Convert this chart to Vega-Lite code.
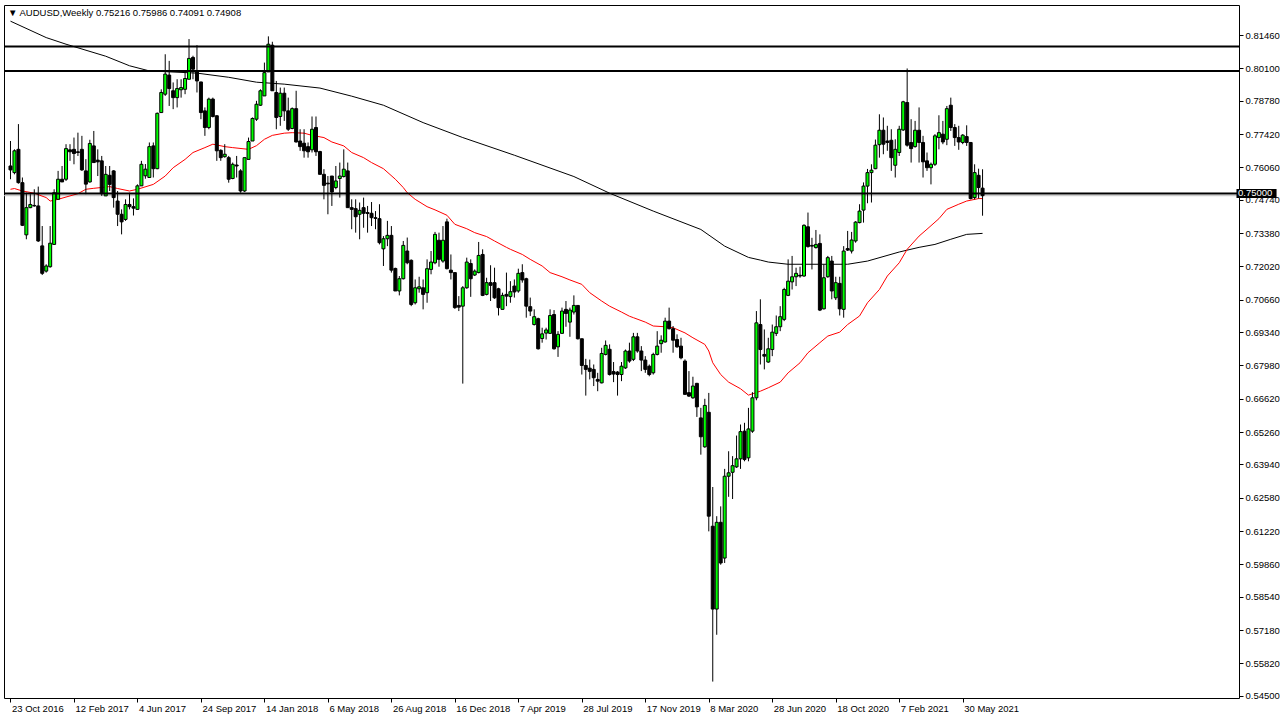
{
"$schema":"https://vega.github.io/schema/vega-lite/v6.json",
"width":1235,"height":693,
"autosize":{"type":"none"},
"padding":{"left":4,"top":5,"right":48,"bottom":23},
"background":"white",
"title":{"text":"▼  AUDUSD,Weekly  0.75216 0.75986 0.74091 0.74908","anchor":"start","frame":"group","orient":"top","baseline":"top","offset":-12,"dx":4,"font":"Liberation Sans","fontSize":9.5,"fontWeight":"normal","color":"black"},
"config":{
"view":{"stroke":"black","strokeWidth":1},
"axis":{"grid":false,"domain":false,"tickColor":"black","labelColor":"black","labelFont":"Liberation Sans","labelFontSize":9.5,"labelOverlap":false}
},
"datasets":{
"candles":[
{"w":0,"o":0.7612,"h":0.7714,"l":0.7558,"c":0.7596},
{"w":1,"o":0.7585,"h":0.7680,"l":0.7578,"c":0.7674},
{"w":2,"o":0.7680,"h":0.7783,"l":0.7540,"c":0.7544},
{"w":3,"o":0.7544,"h":0.7565,"l":0.7367,"c":0.7370},
{"w":4,"o":0.7331,"h":0.7503,"l":0.7313,"c":0.7442},
{"w":5,"o":0.7442,"h":0.7497,"l":0.7440,"c":0.7455},
{"w":6,"o":0.7451,"h":0.7517,"l":0.7446,"c":0.7449},
{"w":7,"o":0.7449,"h":0.7528,"l":0.7302,"c":0.7306},
{"w":8,"o":0.7286,"h":0.7367,"l":0.7167,"c":0.7174},
{"w":9,"o":0.7183,"h":0.7211,"l":0.7177,"c":0.7204},
{"w":10,"o":0.7201,"h":0.7367,"l":0.7197,"c":0.7297},
{"w":11,"o":0.7292,"h":0.7517,"l":0.7290,"c":0.7503},
{"w":12,"o":0.7476,"h":0.7592,"l":0.7476,"c":0.7558},
{"w":13,"o":0.7558,"h":0.7612,"l":0.7547,"c":0.7547},
{"w":14,"o":0.7558,"h":0.7701,"l":0.7551,"c":0.7683},
{"w":15,"o":0.7678,"h":0.7701,"l":0.7633,"c":0.7670},
{"w":16,"o":0.7680,"h":0.7728,"l":0.7619,"c":0.7663},
{"w":17,"o":0.7670,"h":0.7748,"l":0.7653,"c":0.7667},
{"w":18,"o":0.7680,"h":0.7735,"l":0.7592,"c":0.7596},
{"w":19,"o":0.7592,"h":0.7640,"l":0.7497,"c":0.7538},
{"w":20,"o":0.7547,"h":0.7719,"l":0.7544,"c":0.7704},
{"w":21,"o":0.7694,"h":0.7755,"l":0.7626,"c":0.7626},
{"w":22,"o":0.7636,"h":0.7680,"l":0.7571,"c":0.7629},
{"w":23,"o":0.7633,"h":0.7653,"l":0.7490,"c":0.7499},
{"w":24,"o":0.7490,"h":0.7612,"l":0.7490,"c":0.7578},
{"w":25,"o":0.7574,"h":0.7612,"l":0.7510,"c":0.7537},
{"w":26,"o":0.7592,"h":0.7595,"l":0.7442,"c":0.7483},
{"w":27,"o":0.7469,"h":0.7510,"l":0.7367,"c":0.7415},
{"w":28,"o":0.7415,"h":0.7435,"l":0.7333,"c":0.7384},
{"w":29,"o":0.7394,"h":0.7476,"l":0.7388,"c":0.7455},
{"w":30,"o":0.7455,"h":0.7503,"l":0.7435,"c":0.7446},
{"w":31,"o":0.7446,"h":0.7480,"l":0.7410,"c":0.7440},
{"w":32,"o":0.7435,"h":0.7537,"l":0.7435,"c":0.7531},
{"w":33,"o":0.7531,"h":0.7633,"l":0.7531,"c":0.7619},
{"w":34,"o":0.7572,"h":0.7620,"l":0.7560,"c":0.7599},
{"w":35,"o":0.7565,"h":0.7708,"l":0.7565,"c":0.7691},
{"w":36,"o":0.7694,"h":0.7708,"l":0.7565,"c":0.7601},
{"w":37,"o":0.7601,"h":0.7830,"l":0.7599,"c":0.7827},
{"w":38,"o":0.7830,"h":0.7925,"l":0.7830,"c":0.7912},
{"w":39,"o":0.7905,"h":0.8068,"l":0.7898,"c":0.7987},
{"w":40,"o":0.7983,"h":0.8041,"l":0.7857,"c":0.7928},
{"w":41,"o":0.7919,"h":0.7953,"l":0.7844,"c":0.7891},
{"w":42,"o":0.7891,"h":0.7966,"l":0.7851,"c":0.7928},
{"w":43,"o":0.7923,"h":0.7966,"l":0.7891,"c":0.7932},
{"w":44,"o":0.7925,"h":0.8000,"l":0.7905,"c":0.7969},
{"w":45,"o":0.7966,"h":0.8130,"l":0.7966,"c":0.8051},
{"w":46,"o":0.8055,"h":0.8062,"l":0.7966,"c":0.8007},
{"w":47,"o":0.8000,"h":0.8105,"l":0.7912,"c":0.7959},
{"w":48,"o":0.7955,"h":0.7955,"l":0.7803,"c":0.7830},
{"w":49,"o":0.7837,"h":0.7851,"l":0.7735,"c":0.7769},
{"w":50,"o":0.7769,"h":0.7891,"l":0.7762,"c":0.7885},
{"w":51,"o":0.7885,"h":0.7891,"l":0.7810,"c":0.7814},
{"w":52,"o":0.7817,"h":0.7819,"l":0.7633,"c":0.7674},
{"w":53,"o":0.7676,"h":0.7680,"l":0.7633,"c":0.7646},
{"w":54,"o":0.7650,"h":0.7701,"l":0.7646,"c":0.7660},
{"w":55,"o":0.7646,"h":0.7653,"l":0.7544,"c":0.7558},
{"w":56,"o":0.7561,"h":0.7626,"l":0.7558,"c":0.7619},
{"w":57,"o":0.7616,"h":0.7653,"l":0.7565,"c":0.7612},
{"w":58,"o":0.7592,"h":0.7599,"l":0.7503,"c":0.7510},
{"w":59,"o":0.7510,"h":0.7646,"l":0.7506,"c":0.7646},
{"w":60,"o":0.7639,"h":0.7728,"l":0.7639,"c":0.7712},
{"w":61,"o":0.7714,"h":0.7810,"l":0.7714,"c":0.7806},
{"w":62,"o":0.7803,"h":0.7878,"l":0.7796,"c":0.7864},
{"w":63,"o":0.7860,"h":0.7925,"l":0.7857,"c":0.7919},
{"w":64,"o":0.7898,"h":0.8034,"l":0.7898,"c":0.7993},
{"w":65,"o":0.7996,"h":0.8141,"l":0.7996,"c":0.8109},
{"w":66,"o":0.8105,"h":0.8119,"l":0.7919,"c":0.7919},
{"w":67,"o":0.7912,"h":0.7959,"l":0.7762,"c":0.7810},
{"w":68,"o":0.7814,"h":0.7932,"l":0.7776,"c":0.7909},
{"w":69,"o":0.7909,"h":0.7932,"l":0.7796,"c":0.7837},
{"w":70,"o":0.7837,"h":0.7891,"l":0.7755,"c":0.7762},
{"w":71,"o":0.7765,"h":0.7851,"l":0.7762,"c":0.7846},
{"w":72,"o":0.7846,"h":0.7919,"l":0.7708,"c":0.7710},
{"w":73,"o":0.7714,"h":0.7762,"l":0.7674,"c":0.7691},
{"w":74,"o":0.7705,"h":0.7762,"l":0.7646,"c":0.7674},
{"w":75,"o":0.7691,"h":0.7708,"l":0.7646,"c":0.7670},
{"w":76,"o":0.7678,"h":0.7814,"l":0.7667,"c":0.7762},
{"w":77,"o":0.7769,"h":0.7814,"l":0.7653,"c":0.7670},
{"w":78,"o":0.7671,"h":0.7674,"l":0.7578,"c":0.7578},
{"w":79,"o":0.7578,"h":0.7599,"l":0.7476,"c":0.7533},
{"w":80,"o":0.7542,"h":0.7571,"l":0.7415,"c":0.7539},
{"w":81,"o":0.7571,"h":0.7571,"l":0.7449,"c":0.7506},
{"w":82,"o":0.7524,"h":0.7612,"l":0.7517,"c":0.7551},
{"w":83,"o":0.7561,"h":0.7626,"l":0.7483,"c":0.7571},
{"w":84,"o":0.7569,"h":0.7680,"l":0.7565,"c":0.7599},
{"w":85,"o":0.7592,"h":0.7626,"l":0.7442,"c":0.7442},
{"w":86,"o":0.7442,"h":0.7476,"l":0.7354,"c":0.7435},
{"w":87,"o":0.7438,"h":0.7476,"l":0.7340,"c":0.7405},
{"w":88,"o":0.7415,"h":0.7463,"l":0.7313,"c":0.7431},
{"w":89,"o":0.7442,"h":0.7483,"l":0.7360,"c":0.7419},
{"w":90,"o":0.7422,"h":0.7449,"l":0.7340,"c":0.7418},
{"w":91,"o":0.7419,"h":0.7465,"l":0.7367,"c":0.7401},
{"w":92,"o":0.7401,"h":0.7428,"l":0.7354,"c":0.7398},
{"w":93,"o":0.7397,"h":0.7456,"l":0.7292,"c":0.7299},
{"w":94,"o":0.7274,"h":0.7326,"l":0.7204,"c":0.7315},
{"w":95,"o":0.7315,"h":0.7388,"l":0.7285,"c":0.7329},
{"w":96,"o":0.7329,"h":0.7367,"l":0.7177,"c":0.7187},
{"w":97,"o":0.7194,"h":0.7197,"l":0.7102,"c":0.7102},
{"w":98,"o":0.7102,"h":0.7163,"l":0.7084,"c":0.7152},
{"w":99,"o":0.7152,"h":0.7306,"l":0.7149,"c":0.7288},
{"w":100,"o":0.7265,"h":0.7320,"l":0.7211,"c":0.7217},
{"w":101,"o":0.7227,"h":0.7231,"l":0.7040,"c":0.7047},
{"w":102,"o":0.7054,"h":0.7149,"l":0.7047,"c":0.7115},
{"w":103,"o":0.7111,"h":0.7160,"l":0.7095,"c":0.7119},
{"w":104,"o":0.7115,"h":0.7149,"l":0.7027,"c":0.7088},
{"w":105,"o":0.7095,"h":0.7231,"l":0.7054,"c":0.7193},
{"w":106,"o":0.7190,"h":0.7265,"l":0.7170,"c":0.7220},
{"w":107,"o":0.7217,"h":0.7343,"l":0.7211,"c":0.7333},
{"w":108,"o":0.7309,"h":0.7340,"l":0.7201,"c":0.7231},
{"w":109,"o":0.7224,"h":0.7367,"l":0.7217,"c":0.7309},
{"w":110,"o":0.7384,"h":0.7397,"l":0.7190,"c":0.7193},
{"w":111,"o":0.7187,"h":0.7251,"l":0.7149,"c":0.7177},
{"w":112,"o":0.7177,"h":0.7177,"l":0.7029,"c":0.7034},
{"w":113,"o":0.7043,"h":0.7081,"l":0.7020,"c":0.7036},
{"w":114,"o":0.7040,"h":0.7122,"l":0.6724,"c":0.7115},
{"w":115,"o":0.7115,"h":0.7238,"l":0.7111,"c":0.7220},
{"w":116,"o":0.7214,"h":0.7231,"l":0.7078,"c":0.7152},
{"w":117,"o":0.7167,"h":0.7190,"l":0.7163,"c":0.7183},
{"w":118,"o":0.7177,"h":0.7302,"l":0.7174,"c":0.7247},
{"w":119,"o":0.7251,"h":0.7272,"l":0.7081,"c":0.7084},
{"w":120,"o":0.7088,"h":0.7156,"l":0.7084,"c":0.7136},
{"w":121,"o":0.7136,"h":0.7207,"l":0.7061,"c":0.7125},
{"w":122,"o":0.7136,"h":0.7197,"l":0.7070,"c":0.7074},
{"w":123,"o":0.7111,"h":0.7115,"l":0.7002,"c":0.7034},
{"w":124,"o":0.7027,"h":0.7095,"l":0.7027,"c":0.7084},
{"w":125,"o":0.7088,"h":0.7177,"l":0.7040,"c":0.7081},
{"w":126,"o":0.7079,"h":0.7142,"l":0.7054,"c":0.7099},
{"w":127,"o":0.7122,"h":0.7149,"l":0.7075,"c":0.7098},
{"w":128,"o":0.7102,"h":0.7193,"l":0.7095,"c":0.7174},
{"w":129,"o":0.7177,"h":0.7211,"l":0.7136,"c":0.7147},
{"w":130,"o":0.7152,"h":0.7156,"l":0.6993,"c":0.7040},
{"w":131,"o":0.7038,"h":0.7075,"l":0.7000,"c":0.7020},
{"w":132,"o":0.6965,"h":0.7027,"l":0.6961,"c":0.6997},
{"w":133,"o":0.6989,"h":0.6993,"l":0.6863,"c":0.6866},
{"w":134,"o":0.6908,"h":0.6952,"l":0.6891,"c":0.6927},
{"w":135,"o":0.6930,"h":0.6952,"l":0.6904,"c":0.6943},
{"w":136,"o":0.6929,"h":0.7027,"l":0.6927,"c":0.7002},
{"w":137,"o":0.7006,"h":0.7024,"l":0.6863,"c":0.6866},
{"w":138,"o":0.6874,"h":0.6938,"l":0.6833,"c":0.6925},
{"w":139,"o":0.6929,"h":0.7034,"l":0.6929,"c":0.7020},
{"w":140,"o":0.7027,"h":0.7061,"l":0.6956,"c":0.7010},
{"w":141,"o":0.6975,"h":0.7034,"l":0.6915,"c":0.7024},
{"w":142,"o":0.7016,"h":0.7084,"l":0.7006,"c":0.7043},
{"w":143,"o":0.7043,"h":0.7043,"l":0.6904,"c":0.6907},
{"w":144,"o":0.6907,"h":0.6907,"l":0.6761,"c":0.6798},
{"w":145,"o":0.6798,"h":0.6825,"l":0.6675,"c":0.6782},
{"w":146,"o":0.6787,"h":0.6822,"l":0.6741,"c":0.6774},
{"w":147,"o":0.6782,"h":0.6802,"l":0.6714,"c":0.6748},
{"w":148,"o":0.6741,"h":0.6768,"l":0.6693,"c":0.6734},
{"w":149,"o":0.6727,"h":0.6870,"l":0.6725,"c":0.6847},
{"w":150,"o":0.6843,"h":0.6900,"l":0.6839,"c":0.6880},
{"w":151,"o":0.6864,"h":0.6884,"l":0.6757,"c":0.6761},
{"w":152,"o":0.6773,"h":0.6812,"l":0.6730,"c":0.6763},
{"w":153,"o":0.6771,"h":0.6775,"l":0.6675,"c":0.6761},
{"w":154,"o":0.6761,"h":0.6812,"l":0.6734,"c":0.6795},
{"w":155,"o":0.6788,"h":0.6863,"l":0.6784,"c":0.6857},
{"w":156,"o":0.6857,"h":0.6891,"l":0.6809,"c":0.6816},
{"w":157,"o":0.6823,"h":0.6931,"l":0.6816,"c":0.6915},
{"w":158,"o":0.6915,"h":0.6931,"l":0.6850,"c":0.6857},
{"w":159,"o":0.6857,"h":0.6877,"l":0.6775,"c":0.6820},
{"w":160,"o":0.6820,"h":0.6836,"l":0.6768,"c":0.6782},
{"w":161,"o":0.6795,"h":0.6802,"l":0.6754,"c":0.6761},
{"w":162,"o":0.6768,"h":0.6850,"l":0.6761,"c":0.6843},
{"w":163,"o":0.6843,"h":0.6938,"l":0.6839,"c":0.6877},
{"w":164,"o":0.6887,"h":0.6921,"l":0.6850,"c":0.6901},
{"w":165,"o":0.6894,"h":0.6993,"l":0.6891,"c":0.6979},
{"w":166,"o":0.6979,"h":0.7034,"l":0.6945,"c":0.6948},
{"w":167,"o":0.6948,"h":0.6959,"l":0.6850,"c":0.6901},
{"w":168,"o":0.6904,"h":0.6925,"l":0.6870,"c":0.6874},
{"w":169,"o":0.6877,"h":0.6911,"l":0.6823,"c":0.6829},
{"w":170,"o":0.6816,"h":0.6823,"l":0.6680,"c":0.6680},
{"w":171,"o":0.6687,"h":0.6775,"l":0.6670,"c":0.6673},
{"w":172,"o":0.6666,"h":0.6752,"l":0.6662,"c":0.6714},
{"w":173,"o":0.6725,"h":0.6727,"l":0.6588,"c":0.6629},
{"w":174,"o":0.6584,"h":0.6625,"l":0.6434,"c":0.6507},
{"w":175,"o":0.6466,"h":0.6662,"l":0.6462,"c":0.6635},
{"w":176,"o":0.6607,"h":0.6686,"l":0.6121,"c":0.6183},
{"w":177,"o":0.6142,"h":0.6302,"l":0.5508,"c":0.5804},
{"w":178,"o":0.5804,"h":0.6183,"l":0.5699,"c":0.6158},
{"w":179,"o":0.6158,"h":0.6223,"l":0.5985,"c":0.5992},
{"w":180,"o":0.6012,"h":0.6376,"l":0.5992,"c":0.6346},
{"w":181,"o":0.6346,"h":0.6448,"l":0.6262,"c":0.6360},
{"w":182,"o":0.6362,"h":0.6428,"l":0.6253,"c":0.6389},
{"w":183,"o":0.6384,"h":0.6512,"l":0.6380,"c":0.6417},
{"w":184,"o":0.6417,"h":0.6557,"l":0.6376,"c":0.6528},
{"w":185,"o":0.6530,"h":0.6564,"l":0.6407,"c":0.6414},
{"w":186,"o":0.6421,"h":0.6625,"l":0.6407,"c":0.6539},
{"w":187,"o":0.6530,"h":0.6689,"l":0.6523,"c":0.6666},
{"w":188,"o":0.6666,"h":0.7020,"l":0.6656,"c":0.6972},
{"w":189,"o":0.6965,"h":0.7068,"l":0.6802,"c":0.6863},
{"w":190,"o":0.6843,"h":0.6945,"l":0.6782,"c":0.6836},
{"w":191,"o":0.6812,"h":0.6911,"l":0.6809,"c":0.6866},
{"w":192,"o":0.6863,"h":0.6965,"l":0.6836,"c":0.6934},
{"w":193,"o":0.6929,"h":0.7002,"l":0.6918,"c":0.6956},
{"w":194,"o":0.6956,"h":0.7040,"l":0.6938,"c":0.6997},
{"w":195,"o":0.6986,"h":0.7115,"l":0.6979,"c":0.7108},
{"w":196,"o":0.7084,"h":0.7231,"l":0.7081,"c":0.7142},
{"w":197,"o":0.7139,"h":0.7245,"l":0.7108,"c":0.7160},
{"w":198,"o":0.7160,"h":0.7197,"l":0.7122,"c":0.7174},
{"w":199,"o":0.7166,"h":0.7201,"l":0.7156,"c":0.7163},
{"w":200,"o":0.7163,"h":0.7374,"l":0.7160,"c":0.7370},
{"w":201,"o":0.7364,"h":0.7422,"l":0.7279,"c":0.7283},
{"w":202,"o":0.7288,"h":0.7319,"l":0.7190,"c":0.7285},
{"w":203,"o":0.7279,"h":0.7351,"l":0.7275,"c":0.7292},
{"w":204,"o":0.7296,"h":0.7333,"l":0.7020,"c":0.7024},
{"w":205,"o":0.7029,"h":0.7211,"l":0.7027,"c":0.7156},
{"w":206,"o":0.7160,"h":0.7245,"l":0.7156,"c":0.7238},
{"w":207,"o":0.7224,"h":0.7245,"l":0.7068,"c":0.7102},
{"w":208,"o":0.7074,"h":0.7160,"l":0.7065,"c":0.7136},
{"w":209,"o":0.7133,"h":0.7160,"l":0.7002,"c":0.7029},
{"w":210,"o":0.7027,"h":0.7285,"l":0.6993,"c":0.7265},
{"w":211,"o":0.7275,"h":0.7347,"l":0.7265,"c":0.7269},
{"w":212,"o":0.7265,"h":0.7343,"l":0.7255,"c":0.7310},
{"w":213,"o":0.7306,"h":0.7387,"l":0.7299,"c":0.7383},
{"w":214,"o":0.7381,"h":0.7456,"l":0.7378,"c":0.7428},
{"w":215,"o":0.7432,"h":0.7545,"l":0.7381,"c":0.7530},
{"w":216,"o":0.7530,"h":0.7600,"l":0.7460,"c":0.7585},
{"w":217,"o":0.7585,"h":0.7619,"l":0.7463,"c":0.7595},
{"w":218,"o":0.7601,"h":0.7720,"l":0.7599,"c":0.7697},
{"w":219,"o":0.7699,"h":0.7823,"l":0.7646,"c":0.7758},
{"w":220,"o":0.7758,"h":0.7810,"l":0.7660,"c":0.7701},
{"w":221,"o":0.7714,"h":0.7776,"l":0.7674,"c":0.7708},
{"w":222,"o":0.7717,"h":0.7762,"l":0.7592,"c":0.7646},
{"w":223,"o":0.7615,"h":0.7721,"l":0.7565,"c":0.7680},
{"w":224,"o":0.7667,"h":0.7776,"l":0.7653,"c":0.7762},
{"w":225,"o":0.7759,"h":0.7878,"l":0.7755,"c":0.7874},
{"w":226,"o":0.7871,"h":0.8010,"l":0.7691,"c":0.7697},
{"w":227,"o":0.7708,"h":0.7803,"l":0.7626,"c":0.7683},
{"w":228,"o":0.7691,"h":0.7796,"l":0.7687,"c":0.7758},
{"w":229,"o":0.7758,"h":0.7851,"l":0.7626,"c":0.7708},
{"w":230,"o":0.7708,"h":0.7735,"l":0.7565,"c":0.7629},
{"w":231,"o":0.7633,"h":0.7667,"l":0.7592,"c":0.7605},
{"w":232,"o":0.7605,"h":0.7626,"l":0.7537,"c":0.7619},
{"w":233,"o":0.7619,"h":0.7742,"l":0.7612,"c":0.7735},
{"w":234,"o":0.7728,"h":0.7819,"l":0.7680,"c":0.7748},
{"w":235,"o":0.7742,"h":0.7796,"l":0.7701,"c":0.7710},
{"w":236,"o":0.7721,"h":0.7857,"l":0.7697,"c":0.7846},
{"w":237,"o":0.7860,"h":0.7891,"l":0.7755,"c":0.7769},
{"w":238,"o":0.7769,"h":0.7783,"l":0.7694,"c":0.7728},
{"w":239,"o":0.7728,"h":0.7776,"l":0.7678,"c":0.7710},
{"w":240,"o":0.7708,"h":0.7742,"l":0.7701,"c":0.7738},
{"w":241,"o":0.7732,"h":0.7778,"l":0.7694,"c":0.7708},
{"w":242,"o":0.7708,"h":0.7710,"l":0.7476,"c":0.7479},
{"w":243,"o":0.7483,"h":0.7619,"l":0.7476,"c":0.7585},
{"w":244,"o":0.7574,"h":0.7601,"l":0.7479,"c":0.7524},
{"w":245,"o":0.75216,"h":0.75986,"l":0.74091,"c":0.74908}
],
"ma50":[
{"w":0,"v":0.7517},{"w":1,"v":0.7520},{"w":3,"v":0.7510},{"w":6,"v":0.7501},{"w":9,"v":0.7483},{"w":10,"v":0.7469},{"w":12,"v":0.7476},{"w":15,"v":0.7490},{"w":17,"v":0.7499},{"w":19,"v":0.7517},{"w":21,"v":0.7521},{"w":24,"v":0.7526},{"w":25,"v":0.7528},{"w":27,"v":0.7520},{"w":30,"v":0.7510},{"w":32,"v":0.7517},{"w":36,"v":0.7537},{"w":39,"v":0.7571},{"w":41,"v":0.7605},{"w":44,"v":0.7639},{"w":46,"v":0.7667},{"w":49,"v":0.7687},{"w":51,"v":0.7701},{"w":54,"v":0.7691},{"w":56,"v":0.7687},{"w":60,"v":0.7680},{"w":62,"v":0.7695},{"w":64,"v":0.7721},{"w":66,"v":0.7737},{"w":69,"v":0.7746},{"w":71,"v":0.7748},{"w":74,"v":0.7746},{"w":76,"v":0.7737},{"w":79,"v":0.7728},{"w":81,"v":0.7710},{"w":84,"v":0.7694},{"w":86,"v":0.7667},{"w":89,"v":0.7646},{"w":91,"v":0.7626},{"w":94,"v":0.7601},{"w":97,"v":0.7558},{"w":99,"v":0.7524},{"w":100,"v":0.7503},{"w":102,"v":0.7476},{"w":105,"v":0.7446},{"w":107,"v":0.7433},{"w":110,"v":0.7411},{"w":112,"v":0.7374},{"w":115,"v":0.7356},{"w":117,"v":0.7340},{"w":120,"v":0.7324},{"w":122,"v":0.7306},{"w":125,"v":0.7280},{"w":126,"v":0.7272},{"w":129,"v":0.7251},{"w":131,"v":0.7231},{"w":134,"v":0.7204},{"w":136,"v":0.7177},{"w":139,"v":0.7160},{"w":141,"v":0.7147},{"w":144,"v":0.7129},{"w":146,"v":0.7095},{"w":149,"v":0.7061},{"w":151,"v":0.7040},{"w":154,"v":0.7016},{"w":156,"v":0.6999},{"w":157,"v":0.6993},{"w":160,"v":0.6975},{"w":162,"v":0.6959},{"w":165,"v":0.6956},{"w":167,"v":0.6952},{"w":170,"v":0.6931},{"w":172,"v":0.6911},{"w":175,"v":0.6884},{"w":176,"v":0.6857},{"w":177,"v":0.6809},{"w":179,"v":0.6761},{"w":181,"v":0.6730},{"w":184,"v":0.6703},{"w":186,"v":0.6677},{"w":189,"v":0.6693},{"w":191,"v":0.6707},{"w":194,"v":0.6730},{"w":196,"v":0.6768},{"w":199,"v":0.6809},{"w":201,"v":0.6850},{"w":204,"v":0.6891},{"w":206,"v":0.6918},{"w":209,"v":0.6934},{"w":211,"v":0.6965},{"w":214,"v":0.7000},{"w":216,"v":0.7054},{"w":219,"v":0.7108},{"w":221,"v":0.7163},{"w":224,"v":0.7217},{"w":226,"v":0.7272},{"w":229,"v":0.7326},{"w":231,"v":0.7354},{"w":234,"v":0.7397},{"w":236,"v":0.7435},{"w":239,"v":0.7456},{"w":241,"v":0.7469},{"w":244,"v":0.7479},{"w":245,"v":0.7479}
],
"ma200":[
{"w":0,"v":0.8203},{"w":9,"v":0.8136},{"w":14,"v":0.8109},{"w":24,"v":0.8060},{"w":30,"v":0.8021},{"w":35,"v":0.8000},{"w":47,"v":0.7991},{"w":55,"v":0.7974},{"w":62,"v":0.7954},{"w":69,"v":0.7946},{"w":78,"v":0.7930},{"w":86,"v":0.7897},{"w":94,"v":0.7860},{"w":104,"v":0.7789},{"w":114,"v":0.7728},{"w":127,"v":0.7656},{"w":142,"v":0.7569},{"w":151,"v":0.7501},{"w":162,"v":0.7428},{"w":174,"v":0.7353},{"w":180,"v":0.7285},{"w":186,"v":0.7239},{"w":189,"v":0.7228},{"w":191,"v":0.7220},{"w":196,"v":0.7211},{"w":211,"v":0.7211},{"w":216,"v":0.7224},{"w":224,"v":0.7261},{"w":229,"v":0.7280},{"w":233,"v":0.7292},{"w":237,"v":0.7313},{"w":241,"v":0.7333},{"w":245,"v":0.7337}
],
"levels":[{"p":0.81},{"p":0.80},{"p":0.75}],
"bid":[{"p":0.74908}],
"tag":[{"p":0.75,"t":"0.75000"}]
},
"layer":[
{"data":{"name":"bid"},"mark":{"type":"rule","color":"#c0c0c0","strokeWidth":1},
 "encoding":{"y":{"field":"p","type":"quantitative","title":null,
  "scale":{"domain":[0.5441,0.8269],"zero":false,"nice":false},
  "axis":{"orient":"right","values":[0.8146,0.801,0.7878,0.7742,0.7606,0.7474,0.7338,0.7202,0.7066,0.6934,0.6798,0.6662,0.6526,0.6394,0.6258,0.6122,0.5986,0.5854,0.5718,0.5582,0.545],"tickCount":40,"format":".5f","tickSize":4,"labelPadding":2,"labelAlign":"left","labelBaseline":"middle","labelOverlap":false,"labelSeparation":0}}}},
{"data":{"name":"ma200"},"mark":{"type":"line","color":"black","strokeWidth":1},
 "encoding":{"x":{"field":"w","type":"quantitative","title":null,
  "scale":{"domain":[-0.375,308.375],"zero":false,"nice":false},
  "axis":{"orient":"bottom","values":[0,16,32,48,64,80,96,112,128,144,160,176,192,208,224,240],"tickCount":40,"labelExpr":"['23 Oct 2016','12 Feb 2017','4 Jun 2017','24 Sep 2017','14 Jan 2018','6 May 2018','26 Aug 2018','16 Dec 2018','7 Apr 2019','28 Jul 2019','17 Nov 2019','8 Mar 2020','28 Jun 2020','18 Oct 2020','7 Feb 2021','30 May 2021'][round(datum.value/16)]","tickSize":4,"labelAlign":"left","labelBaseline":"top","labelPadding":1,"labelOffset":1,"labelOverlap":false,"labelFlush":false}},
  "y":{"field":"v","type":"quantitative","title":null}}},
{"data":{"name":"ma50"},"mark":{"type":"line","color":"#ff0000","strokeWidth":1},
 "encoding":{"x":{"field":"w","type":"quantitative","title":null},"y":{"field":"v","type":"quantitative","title":null}}},
{"data":{"name":"candles"},"mark":{"type":"rule","color":"black","strokeWidth":1},
 "encoding":{"x":{"field":"w","type":"quantitative","title":null},"y":{"field":"l","type":"quantitative","title":null},"y2":{"field":"h"}}},
{"data":{"name":"candles"},"mark":{"type":"bar","width":3,"stroke":"black","strokeWidth":1},
 "encoding":{"x":{"field":"w","type":"quantitative","title":null},"y":{"field":"o","type":"quantitative","title":null},"y2":{"field":"c"},
  "fill":{"condition":{"test":"datum.c > datum.o","value":"#00ff00"},"value":"black"}}},
{"data":{"name":"levels"},"mark":{"type":"rule","color":"black","strokeWidth":2},
 "encoding":{"y":{"field":"p","type":"quantitative","title":null}}},
{"data":{"name":"tag"},"mark":{"type":"rect","color":"black","clip":false,"yOffset":-4.5,"y2Offset":4.5},
 "encoding":{"x":{"datum":309.0,"type":"quantitative"},"x2":{"datum":319.1},"y":{"field":"p","type":"quantitative","title":null},"y2":{"field":"p"}}},
{"data":{"name":"tag"},"mark":{"type":"text","color":"white","clip":false,"align":"left","baseline":"middle","font":"Liberation Sans","fontSize":9.5},
 "encoding":{"x":{"datum":309.4,"type":"quantitative"},"y":{"field":"p","type":"quantitative","title":null},"text":{"field":"t"}}}
]
}
